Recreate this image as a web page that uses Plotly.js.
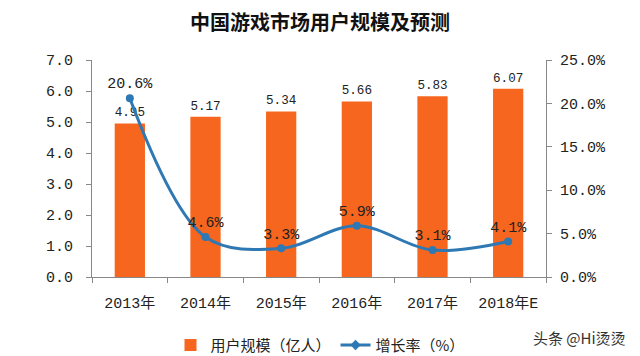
<!DOCTYPE html>
<html>
<head>
<meta charset="utf-8">
<script src="https://cdn.plot.ly/plotly-3.0.1.min.js"></script>
<style>html,body{margin:0;padding:0;background:#fff;}#chart{width:640px;height:356px;}</style>
</head>
<body>
<div id="chart"></div>
<script>
var categories = ["2013年", "2014年", "2015年", "2016年", "2017年", "2018年E"];
var users = [4.95, 5.17, 5.34, 5.66, 5.83, 6.07];
var growth = [20.6, 4.6, 3.3, 5.9, 3.1, 4.1];
var userLabels = ["4.95", "5.17", "5.34", "5.66", "5.83", "6.07"];
var growthLabels = ["20.6%", "4.6%", "3.3%", "5.9%", "3.1%", "4.1%"];
var leftTicks = [0, 1, 2, 3, 4, 5, 6, 7];
var leftTickText = ["0.0", "1.0", "2.0", "3.0", "4.0", "5.0", "6.0", "7.0"];
var rightTicks = [0, 5, 10, 15, 20, 25];
var rightTickText = ["0.0%", "5.0%", "10.0%", "15.0%", "20.0%", "25.0%"];
var seriesNames = ["用户规模（亿人）", "增长率（%）"];

var numFont = "Liberation Mono, 'Noto Sans CJK SC', monospace";
var barColor = "#F7661E";
var lineColor = "#2E78B4";

var traces = [
  {
    type: "bar", x: categories, y: users, name: seriesNames[0],
    marker: {color: barColor}, width: 0.4,
    text: userLabels, textposition: "outside", cliponaxis: false,
    textfont: {family: numFont, size: 15, color: "#222"},
    hoverinfo: "skip"
  },
  {
    type: "scatter", mode: "lines+markers+text", x: categories, y: growth, yaxis: "y2",
    name: seriesNames[1], showlegend: false,
    line: {color: lineColor, width: 3, shape: "spline", smoothing: 1},
    marker: {color: lineColor, size: 8, symbol: "circle"},
    text: growthLabels, textposition: "top center", cliponaxis: false,
    textfont: {family: numFont, size: 15, color: "#222"}
  },
  {
    type: "scatter", mode: "lines+markers", x: [null], y: [null], yaxis: "y2",
    name: seriesNames[1], showlegend: true,
    line: {color: lineColor, width: 3},
    marker: {color: lineColor, size: 8, symbol: "diamond"}
  }
];

var layout = {
  width: 640, height: 356,
  margin: {l: 92, r: 94, t: 60, b: 79},
  paper_bgcolor: "#fff", plot_bgcolor: "#fff",
  showlegend: true,
  bargap: 0.6,
  title: {text: "<b>中国游戏市场用户规模及预测</b>", x: 0.5, xanchor: "center", y: 0.935, yanchor: "middle",
    font: {family: "'Noto Sans CJK SC', sans-serif", size: 20, color: "#111"}},
  xaxis: {
    type: "category", showline: true, linecolor: "#888", linewidth: 1,
    ticks: "outside", ticklen: 5, tickcolor: "#888", tickson: "boundaries",
    ticklabelstandoff: 12, automargin: false,
    showgrid: false, zeroline: false,
    tickfont: {family: numFont, size: 15, color: "#222"}
  },
  yaxis: {
    range: [0, 7], tickvals: leftTicks, ticktext: leftTickText,
    showline: true, linecolor: "#888", linewidth: 1, ticks: "outside", ticklen: 5, tickcolor: "#888",
    ticklabelstandoff: 10, automargin: false,
    showgrid: false, zeroline: false,
    tickfont: {family: numFont, size: 15, color: "#222"}
  },
  yaxis2: {
    range: [0, 25], tickvals: rightTicks, ticktext: rightTickText, overlaying: "y", side: "right",
    showline: true, linecolor: "#888", linewidth: 1, ticks: "outside", ticklen: 5, tickcolor: "#888",
    ticklabelstandoff: 5, automargin: false,
    showgrid: false, zeroline: false,
    tickfont: {family: numFont, size: 15, color: "#222"}
  },
  legend: {
    orientation: "h", xref: "container", x: 0.5, xanchor: "center",
    yref: "container", y: 0.03, yanchor: "middle",
    font: {family: "'Noto Sans CJK SC', sans-serif", size: 15, color: "#222"},
    itemwidth: 30, tracegroupgap: 0
  },
  annotations: [
    {text: "头条 @Hi烫烫", xref: "paper", yref: "paper", x: 1.18, xanchor: "right",
     y: -0.28, yanchor: "middle", showarrow: false,
     font: {family: "'Noto Sans CJK SC', sans-serif", size: 15, color: "#333"}}
  ]
};

Plotly.newPlot("chart", traces, layout, {displayModeBar: false, staticPlot: true});
</script>
</body>
</html>
